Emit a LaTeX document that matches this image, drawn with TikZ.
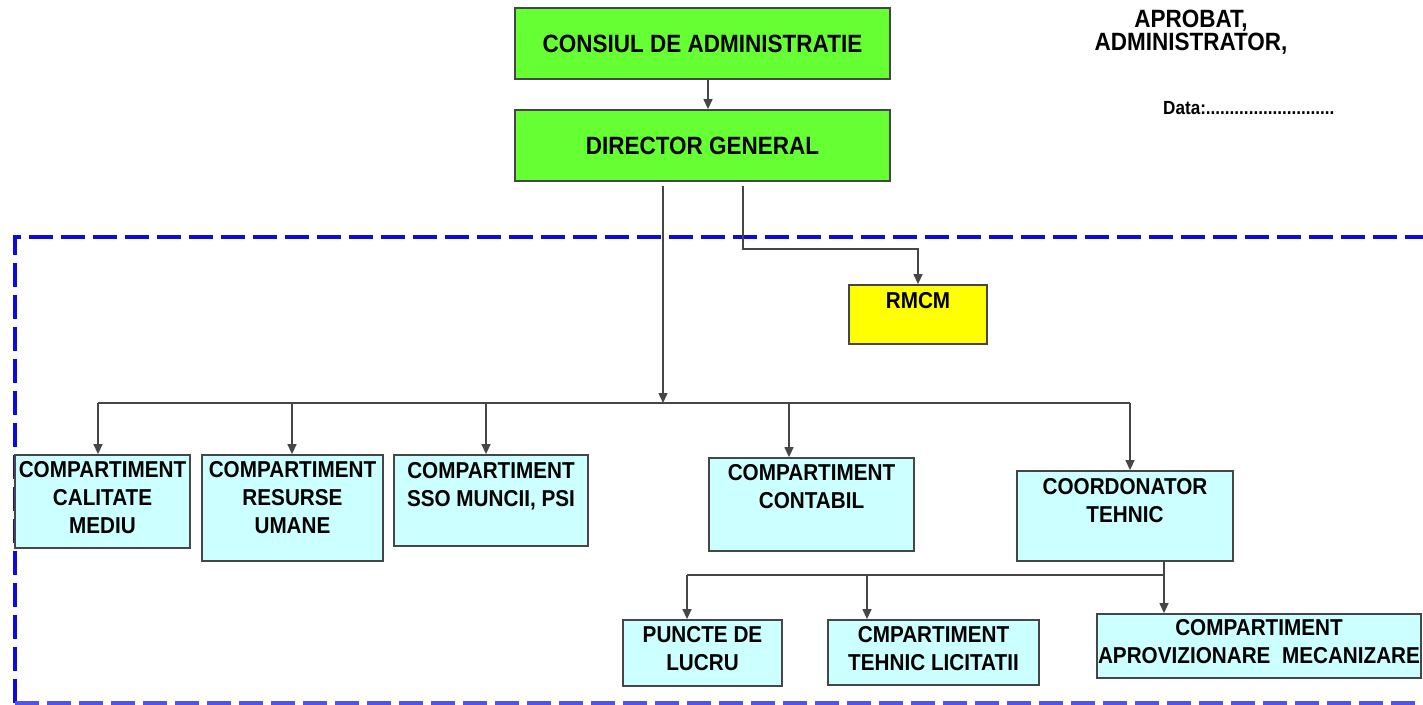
\documentclass[tikz,border=0pt]{standalone}
\usepackage{fontspec}
\setmainfont{Liberation Sans}[FakeStretch=0.9]
\usetikzlibrary{arrows.meta}
\definecolor{gfill}{RGB}{102,255,51}
\definecolor{yfill}{RGB}{255,255,0}
\definecolor{cfill}{RGB}{204,255,255}
\definecolor{dblue}{RGB}{10,10,225}
\definecolor{edge}{RGB}{70,70,70}
\tikzset{
  box/.style={draw=edge, line width=1.8pt, inner sep=0pt},
  gbox/.style={box, fill=gfill, font=\fontsize{25}{25}\selectfont\bfseries},
  cbox/.style={box, fill=cfill},
  ybox/.style={box, fill=yfill},
  txt/.style={inner sep=0pt, anchor=north, align=center, font=\fontsize{23}{28}\selectfont\bfseries},
  conn/.style={draw=edge, line width=1.4pt},
  arr/.style={conn, -{Triangle[width=9pt,length=10pt]}},
}
\begin{document}
\begin{tikzpicture}[x=1pt,y=-1pt]
\useasboundingbox (0,0) rectangle (1423,704);
\fill[white] (0,0) rectangle (1423,704);
% dashed frame
\draw[dblue, line width=4pt, dash pattern=on 24pt off 8pt] (15,703) -- (15,237) -- (1440,237);
\draw[dblue!70, line width=4pt, dash pattern=on 24pt off 8pt] (15,703) -- (1440,703);
% top boxes
\node[gbox, minimum width=375pt, minimum height=71pt] (cons) at (702.5,43.5) {CONSIUL DE ADMINISTRATIE};
\node[gbox, minimum width=375pt, minimum height=71pt] (dir) at (702.5,145.5) {DIRECTOR GENERAL};
% approval text
\node[inner sep=0pt, anchor=north, align=center, font=\fontsize{25}{23}\selectfont\bfseries] (aprob) at (1191,10) {APROBAT,\\ADMINISTRATOR,};
\node[inner sep=0pt, anchor=base west, font=\fontsize{19}{20}\selectfont\bfseries] (data) at (1163,114) {Data:...........................};
% RMCM
\node[ybox, minimum width=138pt, minimum height=59pt] (rmcm) at (918,314.5) {};
\node[txt] (rmcmt) at ([yshift=-8pt]rmcm.north) {RMCM};
% level boxes
\node[cbox, minimum width=175pt, minimum height=93pt] (cal) at (102.5,501.5) {};
\node[txt] (calt) at ([yshift=-7pt]cal.north) {COMPARTIMENT\\CALITATE\\MEDIU};
\node[cbox, minimum width=181pt, minimum height=106pt] (res) at (292.5,508) {};
\node[txt] (rest) at ([yshift=-7pt]res.north) {COMPARTIMENT\\RESURSE\\UMANE};
\node[cbox, minimum width=194pt, minimum height=91pt] (sso) at (491,500.5) {};
\node[txt] (ssot) at ([yshift=-8pt]sso.north) {COMPARTIMENT\\SSO MUNCII, PSI};
\node[cbox, minimum width=205pt, minimum height=93pt] (cont) at (811.5,504.5) {};
\node[txt] (contt) at ([yshift=-7pt]cont.north) {COMPARTIMENT\\CONTABIL};
\node[cbox, minimum width=216pt, minimum height=90pt] (coord) at (1125,516) {};
\node[txt] (coordt) at ([yshift=-8pt]coord.north) {COORDONATOR\\TEHNIC};
% bottom boxes
\node[cbox, minimum width=159pt, minimum height=66pt] (punc) at (702.5,653) {};
\node[txt] (punct) at ([yshift=-7pt]punc.north) {PUNCTE DE\\LUCRU};
\node[cbox, minimum width=211pt, minimum height=65pt] (cmp) at (933.5,652.5) {};
\node[txt] (cmpt) at ([yshift=-7pt]cmp.north) {CMPARTIMENT\\TEHNIC LICITATII};
\node[cbox, minimum width=324pt, minimum height=64pt] (apr) at (1259,646) {};
\node[txt] (aprt) at ([yshift=-6pt]apr.north) {COMPARTIMENT\\APROVIZIONARE\ \ MECANIZARE};
% connectors
\draw[arr] (cons.south -| 708,0) -- (dir.north -| 708,0);
\coordinate (bus) at (663,403);
\coordinate (b1) at (98,403);
\coordinate (b2) at (292,403);
\coordinate (b3) at (486,403);
\coordinate (b4) at (789,403);
\coordinate (b5) at (1130,403);
\draw[conn] (b1) -- (b5);
\draw[arr, shorten <=4pt] (dir.south -| bus) -- (bus);
\draw[arr] (b1) -- (b1 |- cal.north);
\draw[arr] (b2) -- (b2 |- res.north);
\draw[arr] (b3) -- (b3 |- sso.north);
\draw[arr] (b4) -- (b4 |- cont.north);
\draw[arr] (b5) -- (b5 |- coord.north);
\coordinate (r0) at (743,249);
\draw[arr, shorten <=4pt] (dir.south -| r0) -- (r0) -| (rmcm.north);
\coordinate (t0) at (1164,575);
\coordinate (t1) at (687,575);
\coordinate (t2) at (867,575);
\draw[conn] (coord.south -| t0) -- (t0);
\draw[conn] (t1) -- (t0);
\draw[arr] (t0) -- (t0 |- apr.north);
\draw[arr] (t1) -- (t1 |- punc.north);
\draw[arr] (t2) -- (t2 |- cmp.north);
\end{tikzpicture}
\end{document}
